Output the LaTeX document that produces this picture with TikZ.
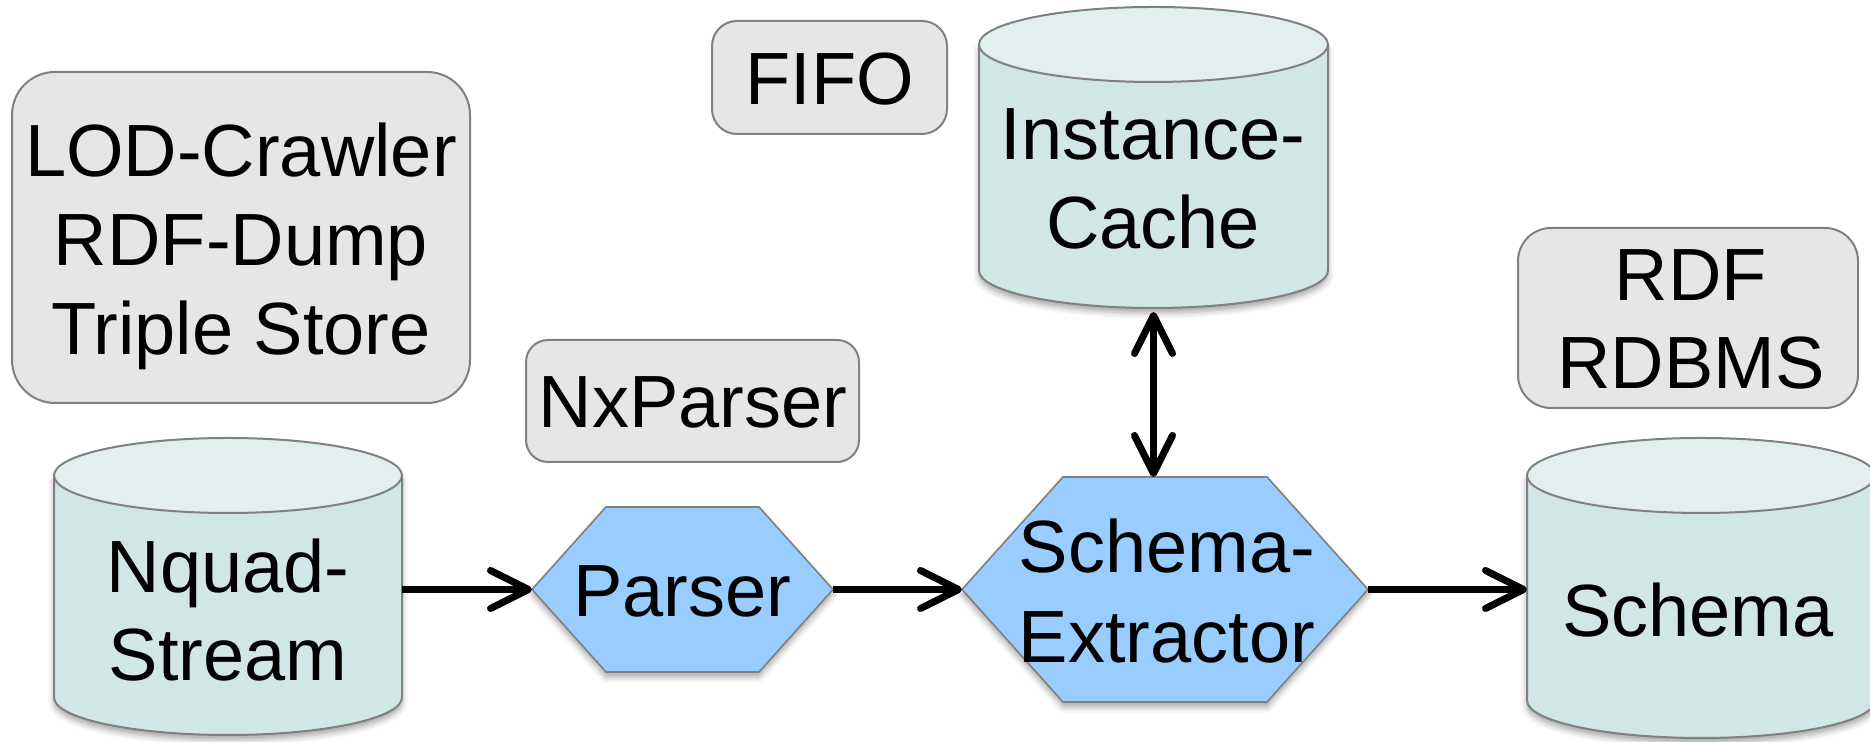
\documentclass[tikz,border=0pt]{standalone}
\usepackage{fontspec}
\setmainfont{Liberation Sans}
\usetikzlibrary{arrows.meta,shadows.blur}

\definecolor{cylbody}{RGB}{208,231,229}
\definecolor{cyltop}{RGB}{225,239,239}
\definecolor{hexfill}{RGB}{153,204,255}
\definecolor{boxfill}{RGB}{230,230,230}
\definecolor{edgegray}{RGB}{128,128,128}

\begin{document}
\begin{tikzpicture}[x=0.5pt,y=0.5pt,
  lbl/.style={inner sep=0pt, outer sep=0pt, align=center,
    font=\fontsize{37pt}{#1}\selectfont},
  lbl/.default=44pt,
  frame/.style={inner sep=0pt, outer sep=0pt, draw=none},
  note/.style={frame, draw=edgegray, fill=boxfill, line width=1pt, rounded corners=#1},
  softshadow/.style={blur shadow={shadow xshift=0pt, shadow yshift=-2.5pt,
    shadow blur radius=3pt, shadow opacity=35}},
  cylside/.style={fill=cylbody, draw=edgegray, line width=1pt, softshadow},
  cyllid/.style={fill=cyltop, draw=edgegray, line width=1pt},
  hexa/.style={fill=hexfill, draw=edgegray, line width=0.8pt, softshadow},
  flow/.style={line width=3.5pt, -{Straight Barb[round, length=19pt, width=19pt]}},
  flowboth/.style={line width=3.5pt, {Straight Barb[round, length=19pt, width=19pt]}-{Straight Barb[round, length=19pt, width=19pt]}}
]
\useasboundingbox (0,0) rectangle (1870,742);

% ---- sources / targets (annotation boxes) ----
\node[note=21.5pt, minimum width=229pt, minimum height=165.5pt] (srcbox) at (241,504.5) {};
\node[note=12.5pt, minimum width=117.5pt, minimum height=56.5pt] (fifobox) at (829.5,664.5) {};
\node[note=11pt, minimum width=166.5pt, minimum height=61pt] (nxbox) at (692.5,341) {};
\node[note=16.5pt, minimum width=170pt, minimum height=90pt] (rdfbox) at (1688,424) {};

\node[lbl=44.5pt] (srctxt) at (241,495.25) {LOD-Crawler\\RDF-Dump\\Triple Store};
\node[lbl, anchor=base] (fifotxt) at (830,637) {FIFO};
\node[lbl, anchor=base] (nxtxt) at (693,314) {NxParser};
\node[lbl=44pt] (rdftxt) at (1691,423) {RDF\\RDBMS};

% ---- cylinder: Nquad-Stream ----
\node[frame, minimum width=174pt, minimum height=148.5pt] (nquad) at (228,155.5) {};
\path[cylside] (54,266.5) -- (54,44.5)
  arc[start angle=180, end angle=360, x radius=87pt, y radius=18.75pt]
  -- (402,266.5) -- cycle;
\path[cyllid] (228,266.5) ellipse[x radius=87pt, y radius=18.75pt];
\node[lbl=44pt] (nquadtxt) at (228,132) {Nquad-\\Stream};

% ---- cylinder: Instance-Cache ----
\node[frame, minimum width=174.5pt, minimum height=150.5pt] (cache) at (1153.5,584.5) {};
\path[cylside] (979,697.5) -- (979,471.5)
  arc[start angle=180, end angle=360, x radius=87.25pt, y radius=18.75pt]
  -- (1328,697.5) -- cycle;
\path[cyllid] (1153.5,697.5) ellipse[x radius=87.25pt, y radius=18.75pt];
\node[lbl=44.5pt] (cachetxt) at (1153,563.5) {Instance-\\Cache};

% ---- cylinder: Schema ----
\node[frame, minimum width=174pt, minimum height=150pt] (schema) at (1701,154) {};
\path[cylside] (1527,266.5) -- (1527,41.5)
  arc[start angle=180, end angle=360, x radius=87pt, y radius=18.75pt]
  -- (1875,266.5) -- cycle;
\path[cyllid] (1701,266.5) ellipse[x radius=87pt, y radius=18.75pt];
\node[lbl, anchor=base] (schematxt) at (1698,105) {Schema};

% ---- hexagon: Parser ----
\node[frame, minimum width=150.5pt, minimum height=82.5pt] (parser) at (682.5,152.5) {};
\path[hexa] (532,152.5) -- (606,235) -- (759,235) -- (833,152.5)
  -- (759,70) -- (606,70) -- cycle;
\node[lbl, anchor=base] (parsertxt) at (682,125) {Parser};

% ---- hexagon: Schema-Extractor ----
\node[frame, minimum width=203pt, minimum height=112.5pt] (extractor) at (1165,152.5) {};
\path[hexa] (962,152.5) -- (1063,265) -- (1267,265) -- (1368,152.5)
  -- (1267,40) -- (1063,40) -- cycle;
\node[lbl=45pt] (extractortxt) at (1167,151) {Schema-\\Extractor};

% ---- data flow ----
\draw[flow] (nquad.east |- parser.west) -- (parser.west);
\draw[flow] (parser.east) -- (extractor.west);
\draw[flow] (extractor.east) -- (schema.west |- extractor.east);
\draw[flowboth] ([yshift=-2pt]cache.south) -- (cache.south |- extractor.north);
\end{tikzpicture}
\end{document}
